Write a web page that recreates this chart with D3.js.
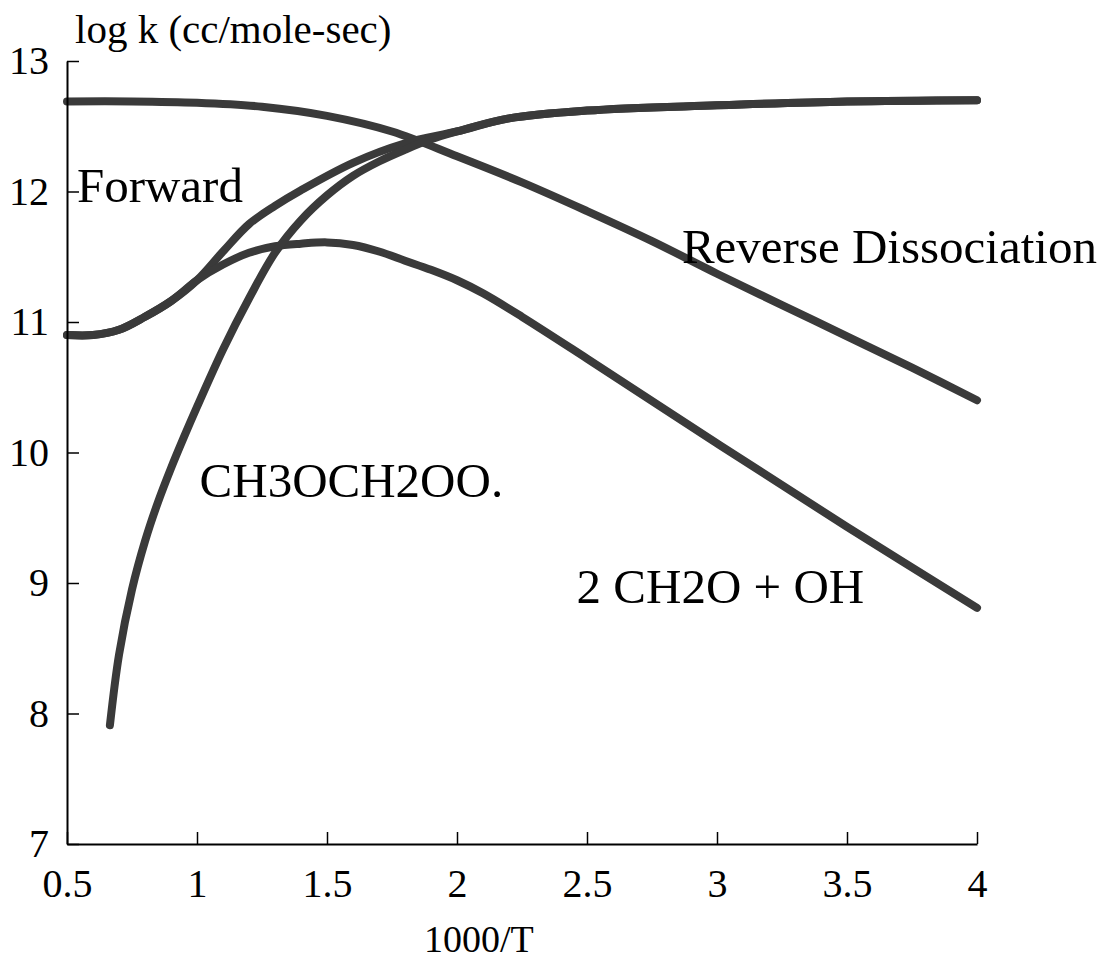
<!DOCTYPE html>
<html>
<head>
<meta charset="utf-8">
<script src="https://cdn.jsdelivr.net/npm/d3@7"></script>
<style>
  body { margin: 0; background: #fff; }
  svg text { font-family: "Liberation Serif", "Times New Roman", serif; fill: #000; }
</style>
</head>
<body>
<svg id="chart"></svg>
<script>
// values (x = 1000/T, y = log k)
const reverseX = [0.5, 0.75, 1.0, 1.25, 1.5, 1.75, 2.0, 2.25, 2.5, 2.75, 3.0, 3.25, 3.5, 3.75, 4.0];
const reverseY = [12.69, 12.69, 12.68, 12.65, 12.58, 12.46, 12.27, 12.07, 11.85, 11.62, 11.37, 11.13, 10.89, 10.65, 10.40];

const forwardX = [0.5, 0.6, 0.7, 0.8, 0.9, 1.0, 1.1, 1.2, 1.3, 1.4, 1.6, 1.8, 2.0, 2.2, 2.5, 3.0, 3.5, 4.0];
const forwardY = [10.90, 10.90, 10.94, 11.04, 11.16, 11.32, 11.54, 11.75, 11.89, 12.01, 12.22, 12.37, 12.46, 12.56, 12.62, 12.66, 12.69, 12.70];

const ch2oX = [0.5, 0.6, 0.7, 0.8, 0.9, 1.0, 1.1, 1.2, 1.3, 1.4, 1.5, 1.6, 1.7, 1.8, 1.9, 2.0, 2.1, 2.25, 2.5, 3.0, 3.5, 4.0];
const ch2oY = [10.90, 10.90, 10.94, 11.04, 11.16, 11.32, 11.44, 11.53, 11.58, 11.60, 11.61, 11.59, 11.54, 11.47, 11.40, 11.32, 11.22, 11.04, 10.72, 10.07, 9.43, 8.81];

const peroxyX = [0.665, 0.7, 0.75, 0.8, 0.85, 0.9, 0.95, 1.0, 1.1, 1.2, 1.3, 1.4, 1.5, 1.6, 1.7, 1.8, 1.9, 2.0, 2.2, 2.5, 3.0, 3.5, 4.0];
const peroxyY = [7.91, 8.45, 8.95, 9.32, 9.62, 9.88, 10.12, 10.35, 10.79, 11.18, 11.53, 11.78, 11.97, 12.12, 12.23, 12.32, 12.40, 12.46, 12.56, 12.62, 12.66, 12.69, 12.70];

const xTicks = [0.5, 1, 1.5, 2, 2.5, 3, 3.5, 4];
const yTicks = [7, 8, 9, 10, 11, 12, 13];

// label anchors in data units
const labels = [
  { text: "Forward", x: 0.538, y: 11.92 },
  { text: "Reverse Dissociation", x: 2.865, y: 11.45 },
  { text: "CH3OCH2OO.", x: 1.01, y: 9.66 },
  { text: "2 CH2O + OH", x: 2.46, y: 8.85 }
];

const width = 1109;
const height = 963;

const svg = d3.select("#chart")
  .attr("width", width)
  .attr("height", height);

const xScale = d3.scaleLinear().domain([0.5, 4]).range([67, 977]);
const yScale = d3.scaleLinear().domain([7, 13]).range([844, 61]);

const series = [
  [reverseX, reverseY],
  [forwardX, forwardY],
  [ch2oX, ch2oY],
  [peroxyX, peroxyY]
].map(([xs, ys]) => xs.map((x, i) => [x, ys[i]]));

const line = d3.line()
  .x(d => xScale(d[0]))
  .y(d => yScale(d[1]))
  .curve(d3.curveCatmullRom.alpha(0.5));

svg.append("g")
  .selectAll("path")
  .data(series)
  .enter()
  .append("path")
  .attr("d", line)
  .attr("fill", "none")
  .attr("stroke", "#3a3a3a")
  .attr("stroke-width", 8)
  .attr("stroke-linecap", "round")
  .attr("stroke-linejoin", "round");

const xAxis = d3.axisBottom(xScale)
  .tickValues(xTicks)
  .tickFormat(d3.format("~g"))
  .tickSizeInner(-12)
  .tickSizeOuter(0)
  .tickPadding(25);

const yAxis = d3.axisLeft(yScale)
  .tickValues(yTicks)
  .tickFormat(d3.format("d"))
  .tickSizeInner(-12)
  .tickSizeOuter(0)
  .tickPadding(18);

const gx = svg.append("g")
  .attr("transform", "translate(0," + yScale(7) + ")")
  .call(xAxis);

const gy = svg.append("g")
  .attr("transform", "translate(" + xScale(0.5) + ",0)")
  .call(yAxis);

[gx, gy].forEach(g => {
  g.select(".domain").attr("stroke", "#000").attr("stroke-width", 2);
  g.selectAll(".tick line").attr("stroke", "#000").attr("stroke-width", 1.5);
  g.selectAll(".tick text")
    .attr("font-size", 40)
    .attr("fill", "#000");
});

svg.append("text")
  .attr("x", 75)
  .attr("y", 43)
  .attr("font-size", 41)
  .text("log k (cc/mole-sec)");

svg.append("text")
  .attr("x", 424)
  .attr("y", 952)
  .attr("font-size", 38)
  .text("1000/T");

svg.append("g")
  .selectAll("text")
  .data(labels)
  .enter()
  .append("text")
  .attr("x", d => xScale(d.x))
  .attr("y", d => yScale(d.y))
  .attr("font-size", 49)
  .text(d => d.text);
</script>
</body>
</html>
